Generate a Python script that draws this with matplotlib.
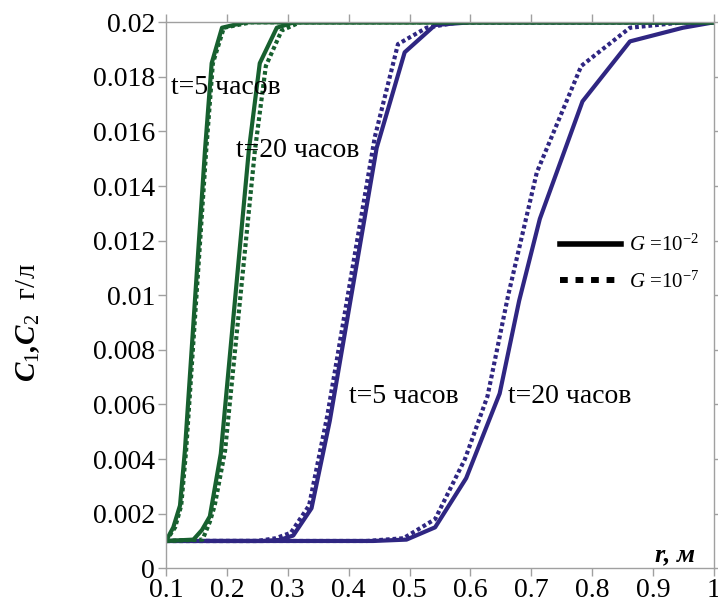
import matplotlib
matplotlib.use("Agg")
import matplotlib.pyplot as plt
from matplotlib.lines import Line2D

plt.rcParams['font.family'] = ['Liberation Serif', 'DejaVu Serif']
plt.rcParams['mathtext.fontset'] = 'custom'
plt.rcParams['mathtext.rm'] = 'Liberation Serif'
plt.rcParams['mathtext.it'] = 'Liberation Serif:italic'
plt.rcParams['mathtext.bf'] = 'Liberation Serif:bold:italic'

# green: t=5 and t=20 hours (C1), blue: t=5 and t=20 hours (C2)
r_g5_a = [0.1, 0.112, 0.123, 0.131, 0.164, 0.175, 0.192, 0.23, 1.0]
c_g5_a = [0.001, 0.0015, 0.0023, 0.0043, 0.0153, 0.0185, 0.0198, 0.02, 0.02]
r_g5_b = [0.1, 0.115, 0.125, 0.133, 0.166, 0.177, 0.195, 0.24, 1.0]
c_g5_b = [0.001, 0.0015, 0.0023, 0.0043, 0.0153, 0.0185, 0.0198, 0.02, 0.02]

r_g20_a = [0.1, 0.145, 0.159, 0.172, 0.19, 0.236, 0.254, 0.282, 0.31, 1.0]
c_g20_a = [0.001, 0.00105, 0.0014, 0.0019, 0.0042, 0.0153, 0.0185, 0.0198, 0.02, 0.02]
r_g20_b = [0.1, 0.16, 0.172, 0.18, 0.197, 0.246, 0.264, 0.29, 0.32, 1.0]
c_g20_b = [0.001, 0.00105, 0.0017, 0.0023, 0.0043, 0.0153, 0.0184, 0.0197, 0.02, 0.02]

r_b5_a = [0.1, 0.26, 0.287, 0.309, 0.339, 0.369, 0.446, 0.492, 0.542, 0.6, 1.0]
c_b5_a = [0.001, 0.001, 0.00104, 0.0012, 0.0022, 0.0054, 0.0154, 0.0189, 0.0199, 0.02, 0.02]
r_b5_b = [0.1, 0.25, 0.28, 0.305, 0.335, 0.365, 0.443, 0.481, 0.528, 0.58, 1.0]
c_b5_b = [0.001, 0.001, 0.0011, 0.0013, 0.0023, 0.0056, 0.0158, 0.0192, 0.0198, 0.02, 0.02]

r_b20_a = [0.1, 0.44, 0.495, 0.542, 0.593, 0.648, 0.68, 0.714, 0.784, 0.862, 0.949, 1.0]
c_b20_a = [0.001, 0.001, 0.00105, 0.0015, 0.0033, 0.0064, 0.0098, 0.0128, 0.0171, 0.0193, 0.0198, 0.02]
r_b20_b = [0.1, 0.43, 0.49, 0.542, 0.591, 0.628, 0.662, 0.709, 0.782, 0.862, 0.95, 1.0]
c_b20_b = [0.001, 0.001, 0.0011, 0.0018, 0.0040, 0.0063, 0.0100, 0.0145, 0.0184, 0.0198, 0.02, 0.02]

xticks = [0.1, 0.2, 0.3, 0.4, 0.5, 0.6, 0.7, 0.8, 0.9, 1.0]
xticklabels = ["0.1", "0.2", "0.3", "0.4", "0.5", "0.6", "0.7", "0.8", "0.9", "1"]
yticks = [0, 0.002, 0.004, 0.006, 0.008, 0.01, 0.012, 0.014, 0.016, 0.018, 0.02]
yticklabels = ["0", "0.002", "0.004", "0.006", "0.008", "0.01", "0.012", "0.014", "0.016", "0.018", "0.02"]

green = "#17602f"
blue = "#2f2682"
dot = (0, (0.9, 0.7))

fig = plt.figure(figsize=(7.18, 6.07), dpi=100)
ax = fig.add_axes([0.2312, 0.0638, 0.7632, 0.8995])

ax.plot(r_b5_b, c_b5_b, color=blue, lw=3, linestyle=dot)
ax.plot(r_b5_a, c_b5_a, color=blue, lw=3)
ax.plot(r_b20_b, c_b20_b, color=blue, lw=3, linestyle=dot)
ax.plot(r_b20_a, c_b20_a, color=blue, lw=3)
ax.plot(r_g5_b, c_g5_b, color=green, lw=3, linestyle=dot)
ax.plot(r_g5_a, c_g5_a, color=green, lw=3)
ax.plot(r_g20_b, c_g20_b, color=green, lw=3, linestyle=dot)
ax.plot(r_g20_a, c_g20_a, color=green, lw=3)

ax.set_xlim(0.1, 1.0)
ax.set_ylim(0, 0.02)
ax.set_xticks(xticks)
ax.set_xticklabels(xticklabels)
ax.set_yticks(yticks)
ax.set_yticklabels(yticklabels)
ax.tick_params(axis='both', direction='out', length=6, width=1, color='#a0a0a0',
               labelsize=20, top=True, right=True)
ax.tick_params(axis='x', pad=1)
ax.tick_params(axis='y', pad=2)
for s in ax.spines.values():
    s.set_color('#a0a0a0')
    s.set_linewidth(1)

ax.text(0.108, 0.0176, "t=5 часов", fontsize=20, va='center')
ax.text(0.215, 0.0153, "t=20 часов", fontsize=20, va='center')
ax.text(0.4, 0.0063, "t=5 часов", fontsize=20, va='center')
ax.text(0.662, 0.0063, "t=20 часов", fontsize=20, va='center')

ax.set_xlabel("r, м", fontsize=19, fontweight='bold', style='italic')
ax.xaxis.set_label_coords(0.929, 0.046)
ax.xaxis.label.set_va('top')
ax.set_ylabel(r"$\mathbf{C}_{\mathit{1}}\mathbf{,}\mathbf{C}_{\mathit{2}}$  г/л", fontsize=21)
ax.yaxis.set_label_coords(-0.226, 0.45)

handles = [Line2D([], [], color='black', lw=4),
           Line2D([], [], color='black', lw=4.3, linestyle=(0, (1.3, 1.3)))]
ax.legend(handles, [r"$G$ =10$^{-2}$", r"$G$ =10$^{-7}$"], loc='upper left',
          bbox_to_anchor=(0.700, 0.63), frameon=False, fontsize=15,
          handlelength=2.95, handletextpad=0.35, labelspacing=0.75, borderpad=0)

plt.savefig("out.png", dpi=100)
